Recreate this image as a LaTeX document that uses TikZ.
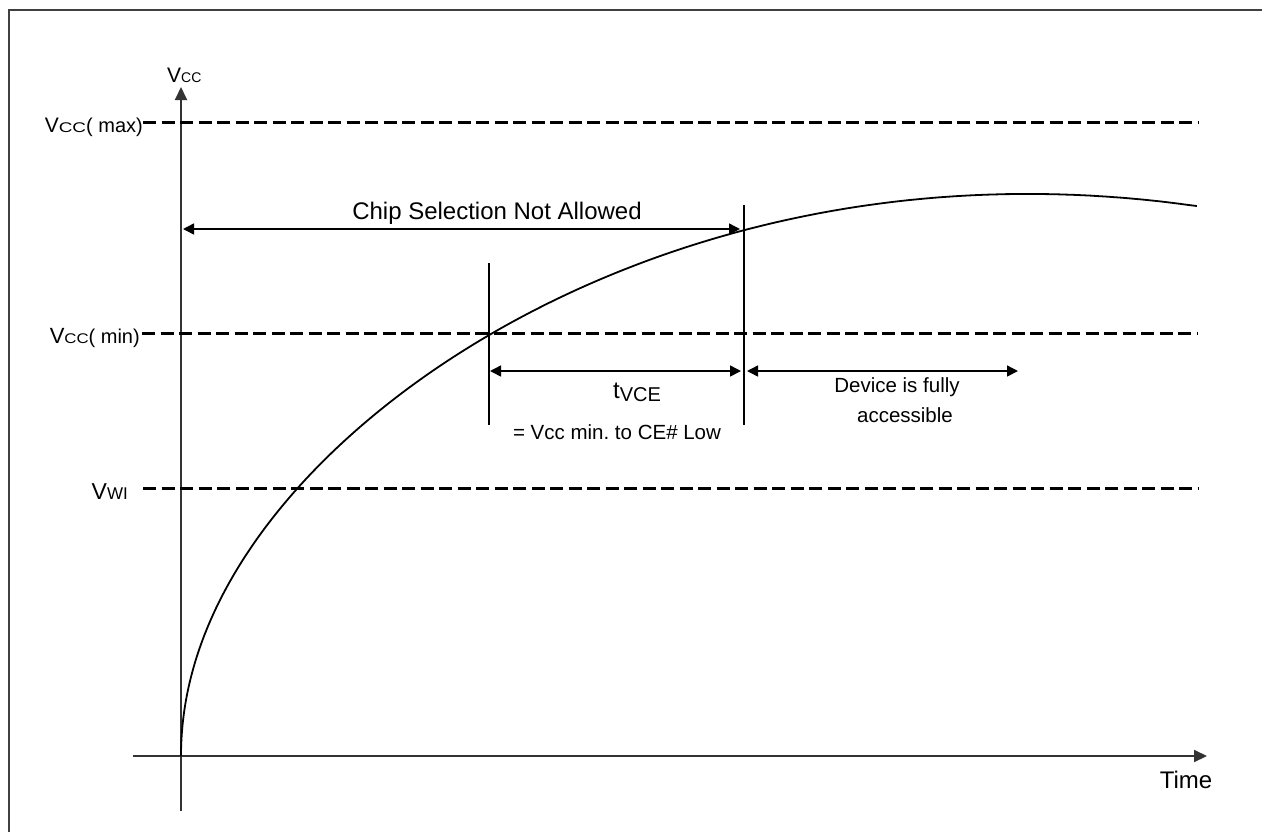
\documentclass[tikz,border=0pt]{standalone}
\usepackage{fontspec}
\usepackage{graphicx}
\setmainfont{Liberation Sans}
\usetikzlibrary{arrows.meta}
\newcommand\myfs[1]{\fontsize{#1}{#1}\selectfont}
\frenchspacing
\begin{document}
\begin{tikzpicture}[x=1pt,y=-1pt,
  frameline/.style={line width=2.5pt, draw={black!75}},
  axisline/.style={line width=2pt, draw={black!80}, -{Triangle[length=13pt,width=12pt]}},
  lvl/.style={line width=3pt, dash pattern=on 13pt off 5.5pt},
  marker/.style={line width=1.5pt},
  span/.style={line width=1.5pt, {Triangle[length=11pt,width=11pt]}-{Triangle[length=11pt,width=11pt]}},
  txt/.style={inner sep=0pt},
]
\useasboundingbox (0,0) rectangle (1262,831);
% frame
\coordinate (fbl) at (9,833);
\coordinate (ftl) at (9,10);
\coordinate (ftr) at (1264,10);
\draw[frameline] (fbl) -- (ftl) -- (ftr);
% axes
\coordinate (ybot) at (181,811);
\coordinate (ytop) at (181,87);
\coordinate (xl) at (133,756);
\coordinate (xr) at (1207,756);
\draw[axisline] (ybot) -- (ytop);
\draw[axisline] (xl) -- (xr);
% level lines
\coordinate (maxL) at (143,122); \coordinate (maxR) at (1198,122);
\coordinate (minL) at (142,333); \coordinate (minR) at (1198,333);
\coordinate (wiL) at (143,488); \coordinate (wiR) at (1198,488);
\draw[lvl] (maxL) -- (maxR);
\draw[lvl] (minL) -- (minR);
\draw[lvl] (wiL) -- (wiR);
% labels
\node[txt, anchor=base west] (vcclab) at (167,82) {\myfs{21}V\myfs{14}CC};
\node[txt, anchor=base east] (maxlab) at (143,132) {\myfs{21}V\myfs{14}\scalebox{1.35}[1]{CC}\myfs{20}( max)};
\node[txt, anchor=base east] (minlab) at (140,343) {\myfs{22}V\myfs{14}\scalebox{1.2}[1]{CC}\myfs{20}( min)};
\node[txt, anchor=base east] (wilab) at (128,499) {\myfs{23}V\myfs{17}WI};
\node[txt] (timelab) at (1186,780) {\myfs{24}Time};
% curve
\coordinate (origin) at (181,756);
\draw[line width=1.8pt] (origin) -- plot[domain=0.3:31.875, samples=220, variable=\t]
  ({181+\t*\t},{756-25*\t*(1-0.31*exp(3.4*ln(\t/31.875)))});
% markers
\coordinate (m1t) at (489,263); \coordinate (m1b) at (489,425);
\coordinate (m2t) at (744,205); \coordinate (m2b) at (744,425);
\draw[marker] (m1t) -- (m1b);
\draw[marker] (m2t) -- (m2b);
% spans
\coordinate (c1) at (183,229); \coordinate (c2) at (740,229);
\draw[span] (c1) -- (c2);
\coordinate (t1) at (490,371); \coordinate (t2) at (741,371);
\draw[span] (t1) -- (t2);
\coordinate (d1) at (747,371); \coordinate (d2) at (1018,371);
\draw[span] (d1) -- (d2);
% texts
\node[txt] (chiplab) at (497,213) {\myfs{24}Chip Selection Not Allowed};
\node[txt] (tvcelab) at (637,392) {\myfs{24}t\raisebox{-3pt}{\myfs{20}VCE}};
\node[txt] (eqlab) at (617,432) {\myfs{20.5}= Vcc min. to CE\# Low};
\node[txt] (devlab) at (897,387) {\myfs{20.5}Device is fully};
\node[txt] (acclab) at (905,415) {\myfs{20.5}accessible};
\end{tikzpicture}
\end{document}
